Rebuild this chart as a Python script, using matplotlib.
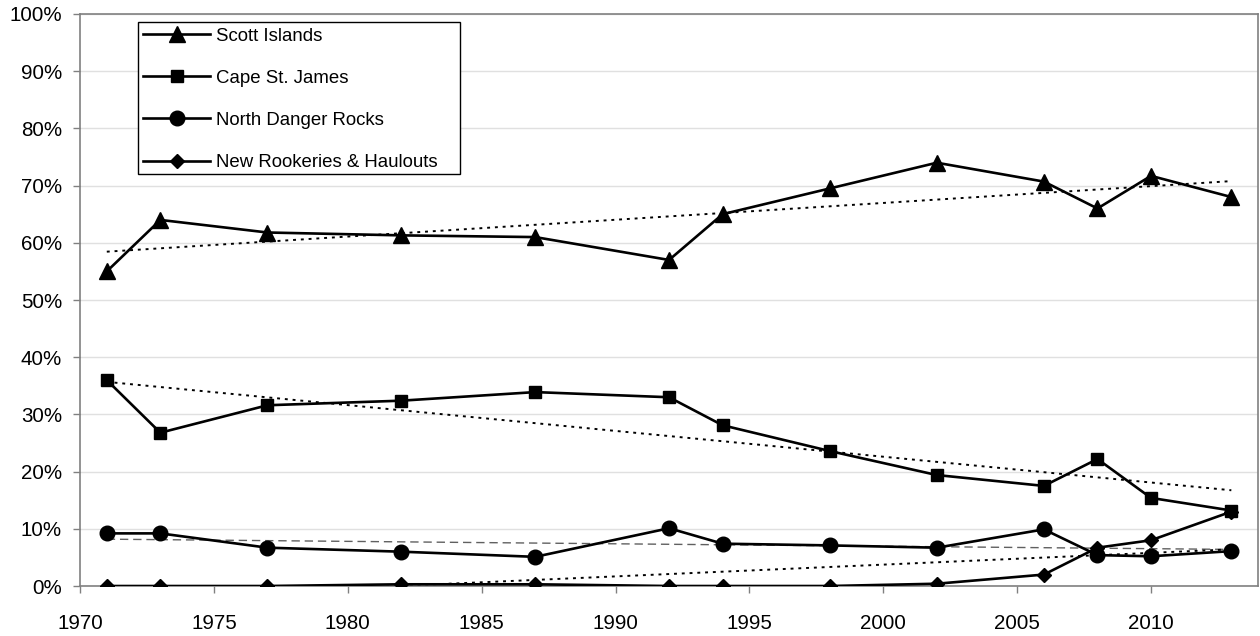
import matplotlib
matplotlib.use("Agg")
import matplotlib.pyplot as plt
from matplotlib.patches import Rectangle
import numpy as np

plt.rcParams["font.family"] = ["Liberation Sans", "DejaVu Sans"]

years = [1971, 1973, 1977, 1982, 1987, 1992, 1994, 1998, 2002, 2006, 2008, 2010, 2013]
scott = [55.0, 64.0, 61.8, 61.3, 61.0, 57.0, 65.0, 69.5, 74.0, 70.7, 66.0, 71.7, 68.0]
cape = [36.0, 26.8, 31.6, 32.4, 33.9, 33.0, 28.1, 23.6, 19.4, 17.5, 22.2, 15.4, 13.2]
north_danger = [9.2, 9.2, 6.7, 6.0, 5.1, 10.1, 7.4, 7.1, 6.7, 9.9, 5.4, 5.2, 6.1]
new_rookeries = [0.0, 0.0, 0.0, 0.3, 0.3, 0.0, 0.0, 0.0, 0.4, 2.0, 6.7, 8.0, 13.0]

labels = ["Scott Islands", "Cape St. James", "North Danger Rocks", "New Rookeries & Haulouts"]
series = [scott, cape, north_danger, new_rookeries]
markers = [("^", 12), ("s", 8.4), ("o", 10.5), ("D", 7.6)]
trend_styles = [((0, (1.5, 2.5)), "black", 1.4), ((0, (1.5, 2.5)), "black", 1.4),
                ((0, (6, 3.5)), "#606060", 1.0), ((0, (1.5, 2.5)), "black", 1.4)]

fig = plt.figure(figsize=(12.6, 6.36), dpi=100)
ax = fig.add_axes([0.0635, 0.0786, 0.935, 0.8994])

x = np.array(years, dtype=float)
for vals, lab, (m, ms), (ls, tc, tw) in zip(series, labels, markers, trend_styles):
    ax.plot(years, vals, color="black", linewidth=1.9, marker=m, markersize=ms,
            label=lab, zorder=3)
    # linear trendline, as in the original spreadsheet chart
    k, b = np.polyfit(x, vals, 1)
    ax.plot([years[0], years[-1]], [k * years[0] + b, k * years[-1] + b],
            linestyle=ls, color=tc, linewidth=tw, zorder=2)

ax.set_xlim(1970, 2014)
ax.set_ylim(0, 100)
ax.set_xticks(range(1970, 2011, 5))
ax.set_yticks(range(0, 101, 10))
ax.set_yticklabels([f"{v}%" for v in range(0, 101, 10)])
ax.tick_params(labelsize=14.8, direction="out", length=5, color="#808080", width=1)
ax.tick_params(axis="y", pad=8)
ax.tick_params(axis="x", pad=15)
ax.grid(axis="y", color="#e0e0e0", linewidth=1)
ax.set_axisbelow(True)
for s in ax.spines.values():
    s.set_color("#808080")
    s.set_linewidth(1.2)

# legend box drawn separately so it keeps the wide right margin of the original
ax.add_patch(Rectangle((0.049, 0.986 - 0.2657), 0.2733, 0.2657, transform=ax.transAxes,
                       facecolor="white", edgecolor="black", linewidth=1.0, zorder=4))
leg = ax.legend(loc="upper left", bbox_to_anchor=(0.049, 0.986), fontsize=13.4,
                frameon=False, handlelength=3.6, labelspacing=1.35, borderpad=0.3,
                handletextpad=0.3, borderaxespad=0)
leg.set_zorder(5)

fig.savefig("out.png", dpi=100)
